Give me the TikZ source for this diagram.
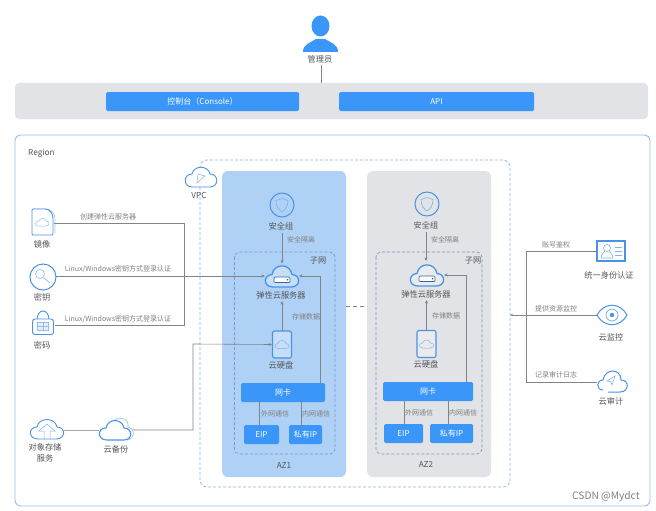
\documentclass[tikz,border=0pt]{standalone}
\usepackage{fontspec}
\usetikzlibrary{arrows.meta}
\setmainfont{Noto Sans CJK SC}
\definecolor{btn}{HTML}{3A96F8}
\definecolor{ico}{HTML}{4A93E6}
\definecolor{icolight}{HTML}{A9CBF2}
\definecolor{regionc}{HTML}{93C3F2}
\definecolor{vpcc}{HTML}{8FB4E6}
\definecolor{barc}{HTML}{E1E3E6}
\definecolor{azone}{HTML}{AFD1F6}
\definecolor{aztwo}{HTML}{E1E3E6}
\definecolor{linec}{HTML}{7F858C}
\definecolor{txt}{HTML}{555555}
\definecolor{subt}{HTML}{808080}
\tikzset{
  x=1pt,y=-1pt,
  lbl/.style={font=\fontsize{8.2}{9.5}\selectfont,text=txt,inner sep=0pt,align=center},
  small/.style={font=\fontsize{7}{8}\selectfont,text=subt,inner sep=0pt},
  btnbox/.style={fill=btn,rounded corners=1.5pt,text=white,inner sep=0pt,font=\fontsize{8}{9}\selectfont},
  spot/.style={inner sep=0pt,outer sep=0pt},
  conn/.style={draw=linec,line width=0.6pt},
  arr/.style={conn,-{Stealth[length=3.5pt,width=3pt]}},
  thick gray/.style={draw=gray!70,line width=1pt},
  subnet/.style={draw=vpcc!85!black,dashed,line width=0.7pt,dash pattern=on 3pt off 2pt,rounded corners=5pt},
  icoline/.style={draw=ico,line width=0.9pt},
  shieldicon/.pic={
    \draw[icoline,draw=ico,line width=1pt] (0,0) circle (12);
    \draw[draw=ico!70,line width=0.6pt] (0,-6.5) -- (6,-4.5) .. controls (6,2) and (3,5) .. (0,7) .. controls (-3,5) and (-6,2) .. (-6,-4.5) -- cycle;
  },
  srvicon/.pic={
    \draw[icoline,line width=1.3pt,fill=white,fill opacity=0.3] (-9,11) .. controls (-19,11) and (-19,-1) .. (-10,-1.5)
      .. controls (-8,-13) and (8,-13) .. (10,-1.5) .. controls (19,-1) and (19,11) .. (9,11) -- cycle;
    \draw[draw=ico!70!black,line width=0.7pt,fill=white,rounded corners=1pt] (-8,1) rectangle (8,6.5);
    \fill[ico!70!black] (5.5,3.7) circle (0.9);
  },
  diskicon/.pic={
    \draw[icoline,line width=1.1pt,fill=white,fill opacity=0.3,rounded corners=2pt] (-9.5,-13.5) rectangle (9.5,13.5);
    \draw[draw=ico!70,line width=0.5pt] (-4,4) .. controls (-8,4) and (-8,-1) .. (-4,-1) .. controls (-3,-5) and (3,-5) .. (4,-1) .. controls (8,-1) and (8,4) .. (4,4) -- cycle;
  },
  imgicon/.pic={
    \draw[draw=icolight,line width=0.7pt] (-9,-13) -- (3,-13) .. controls (8,-13) and (12,-9) .. (12,-3) -- (12,11);
    \draw[icoline,fill=white,rounded corners=1pt] (-11,-13) -- (1,-13) .. controls (7,-13) and (10,-8) .. (10,-3) -- (10,13) -- (-11,13) -- cycle;
    \draw[draw=ico!60,line width=0.5pt] (-5,4) .. controls (-9,4) and (-8,-1) .. (-4,-1) .. controls (-3,-5) and (3,-4) .. (3,-1) .. controls (7,-1) and (7,4) .. (3,4) -- cycle;
  },
  keyicon/.pic={
    \draw[icoline,line width=1pt] (0,0) circle (13);
    \draw[draw=ico!60,line width=0.6pt] (-3,-3) circle (4.5);
    \draw[draw=ico!60,line width=0.8pt] (0.5,0.5) -- (7,6);
  },
  lockicon/.pic={
    \draw[icoline] (-6,-3) .. controls (-6,-15) and (6,-15) .. (6,-3);
    \draw[icoline,fill=white,rounded corners=2.5pt] (-10.5,-4) rectangle (10.5,11.5);
    \draw[draw=ico!60,line width=0.5pt,fill=icolight!30] (-5.5,-0.5) rectangle (5.5,7.5);
    \draw[draw=ico!60,line width=0.4pt] (0,-0.5) -- (0,7.5) (-5.5,3.5) -- (5.5,3.5);
  },
  idicon/.pic={
    \draw[icoline,line width=1.1pt] (-14,-10) rectangle (14,10);
    \draw[draw=ico!70,line width=0.6pt] (-4,-3) circle (3.5);
    \draw[draw=ico!70,line width=0.6pt] (-10,7) .. controls (-10,3) and (-7,2) .. (-6,0) (2,7) .. controls (2,3) and (-1,2) .. (-2,0) (-10,7) -- (2,7);
    \draw[draw=ico!70,line width=0.6pt] (4,-4) -- (11,-4) (4,0) -- (11,0) (4,4) -- (11,4);
  },
  eyeicon/.pic={
    \draw[icoline,line width=1pt] (-15,0) .. controls (-8,-13) and (8,-13) .. (15,0) .. controls (8,13) and (-8,13) .. (-15,0) -- cycle;
    \draw[draw=ico!80,line width=0.7pt] (0,0) circle (6);
    \fill[ico] (0,0) circle (2.2);
  },
  auditicon/.pic={
    \draw[icoline,line width=1pt] (-9,8) .. controls (-16,8) and (-16,-2) .. (-9,-2) .. controls (-7,-14) and (9,-14) .. (9,-2) .. controls (18,-2) and (17,10) .. (8,10) -- (-4,10);
    \draw[draw=ico!70,line width=0.6pt] (-5,-1) -- (3,-6) -- (0,3) -- (-1,0) -- cycle;
  },
  vpcicon/.pic={
    \draw[icoline,fill=white] (-9,9) .. controls (-18,9) and (-18,-4) .. (-9,-4) .. controls (-7,-13) and (7,-13) .. (9,-4) .. controls (18,-4) and (18,9) .. (9,9) -- cycle;
    \draw[draw=ico!70,line width=0.5pt] (-3,-4) -- (4,-2) -- (-4,5) -- cycle;
  },
  backupicon/.pic={
    \draw[draw=icolight,line width=0.8pt] (-5,-7) .. controls (1,-15) and (14,-12) .. (12,-3) .. controls (20,-1) and (19,9) .. (11,10);
    \draw[icoline,line width=1.1pt,fill=white] (-9,10) .. controls (-19,10) and (-19,-2) .. (-10,-2) .. controls (-8,-12) and (6,-12) .. (8,-2) .. controls (17,-2) and (17,10) .. (8,10) -- cycle;
  },
  uploadicon/.pic={
    \draw[icoline,fill=white] (-9,9) .. controls (-19,9) and (-19,-3) .. (-10,-3) .. controls (-8,-13) and (8,-13) .. (10,-3) .. controls (19,-3) and (19,9) .. (9,9) -- cycle;
    \draw[draw=ico!70,line width=0.5pt] (-3,9) -- (-3,1) -- (-8,1) -- (0,-6) -- (8,1) -- (3,1) -- (3,9);
  },
}
\begin{document}
\begin{tikzpicture}
\useasboundingbox (0,0) rectangle (656,511);
\fill[white] (0,0) rectangle (656,511);

% --- top
\node[spot,minimum width=35pt,minimum height=36pt] (admin) at (320.5,34) {};
\fill[btn] (320.5,26) ellipse[x radius=9,y radius=10.5];
\fill[btn] (303,52) .. controls (303,44) and (310,43) .. (316,39) -- (325,39) .. controls (331,43) and (338,44) .. (338,52) -- cycle;
\node[lbl] (adminl) at (320,59) {管理员};
\fill[barc,rounded corners=4pt] (15,83) rectangle (648,119);
\coordinate (barTop) at (321,83);
\draw[conn] (321,65) coordinate (adminb) -- (barTop);
\node[btnbox,minimum width=193pt,minimum height=19pt] (console) at (202.5,101.5) {控制台（Console）};
\node[btnbox,minimum width=195pt,minimum height=19pt] (api) at (436.5,101.5) {API};

% --- region, VPC, AZs
\draw[draw=regionc,line width=0.9pt,rounded corners=6pt] (15,135) rectangle (650,506);
\node[lbl,anchor=west] (region) at (28,153) {Region};
\draw[subnet,draw=vpcc,rounded corners=7pt] (200,160) rectangle (510,487);
\fill[azone,rounded corners=6pt] (222,171) rectangle (346,477);
\fill[aztwo,rounded corners=6pt] (367,171) rectangle (491,477);
\draw[subnet] (234.5,252) rectangle (335,454);
\draw[subnet] (376,252) rectangle (482,454);
\node[spot,minimum width=30pt,minimum height=22pt] (vpc) at (201,178) {};
\pic at (vpc) {vpcicon};
\node[lbl] (vpcl) at (199,195) {VPC};
\node[lbl] (azonel) at (284,465) {AZ1};
\node[lbl] (aztwol) at (426,464) {AZ2};
\node[lbl] (subone) at (318,261) {子网};
\node[lbl] (subtwo) at (473,261) {子网};
\coordinate (azoneE) at (346,306);
\coordinate (aztwoW) at (367,306);
\draw[conn,dashed,dash pattern=on 4pt off 3pt] (azoneE) -- (aztwoW);

% --- AZ1
\node[spot,minimum size=24pt] (sgA) at (282,205) {};
\pic at (sgA) {shieldicon};
\node[lbl] (sgAl) at (281,226) {安全组};
\node[spot,minimum width=34pt,minimum height=25pt] (ecsA) at (282,276) {};
\pic at (ecsA) {srvicon};
\node[lbl] (ecsAl) at (281,295) {弹性云服务器};
\node[spot,minimum width=20pt,minimum height=27pt] (diskA) at (282,344.5) {};
\pic at (diskA) {diskicon};
\node[lbl] (diskAl) at (281,365) {云硬盘};
\node[btnbox,minimum width=84pt,minimum height=19pt] (nicA) at (283,392.5) {网卡};
\node[btnbox,minimum width=35pt,minimum height=19pt] (eipA) at (261.5,434.5) {EIP};
\node[btnbox,minimum width=33pt,minimum height=19pt] (pipA) at (305.5,434.5) {私有IP};
\draw[arr] (282,233) -- (ecsA.north);
\draw[arr] (diskA.north) -- (282,301);
\draw[conn] (259.5,402) -- (259.5,425);
\draw[conn] (301,402) -- (301,425);
\draw[arr] (320.5,383) |- (ecsA.east);
\node[small] at (301,240) {安全隔离};
\node[small] at (306,317) {存储数据};
\node[small] at (275,414) {外网通信};
\node[small] at (316,414) {内网通信};

% --- AZ2
\node[spot,minimum size=24pt] (sgB) at (427,204) {};
\pic at (sgB) {shieldicon};
\node[lbl] (sgBl) at (426,225) {安全组};
\node[spot,minimum width=34pt,minimum height=25pt] (ecsB) at (427,275) {};
\pic at (ecsB) {srvicon};
\node[lbl] (ecsBl) at (426,294) {弹性云服务器};
\node[spot,minimum width=20pt,minimum height=27pt] (diskB) at (426.5,344) {};
\pic at (diskB) {diskicon};
\node[lbl] (diskBl) at (426,364) {云硬盘};
\node[btnbox,minimum width=90pt,minimum height=19pt] (nicB) at (428,391.5) {网卡};
\node[btnbox,minimum width=39pt,minimum height=19pt] (eipB) at (403.5,433.5) {EIP};
\node[btnbox,minimum width=43pt,minimum height=19pt] (pipB) at (451.5,433.5) {私有IP};
\draw[arr] (426,232) -- (426,261);
\draw[arr] (diskB.north) -- (426.5,300);
\draw[conn] (404,401) -- (404,424);
\draw[conn] (448,401) -- (448,424);
\draw[arr] (466,382) |- (ecsB.east);
\node[small] at (445,240) {安全隔离};
\node[small] at (446,316) {存储数据};
\node[small] at (419,413) {外网通信};
\node[small] at (463,413) {内网通信};

% --- left
\node[spot,minimum width=22pt,minimum height=26pt] (img) at (43,222) {};
\pic at (img) {imgicon};
\node[lbl] at (42,244) {镜像};
\node[spot,minimum size=26pt] (key) at (43,277) {};
\pic at (key) {keyicon};
\node[lbl] at (42,297) {密钥};
\node[spot,minimum width=22pt,minimum height=24pt] (pwd) at (43,323) {};
\pic at (pwd) {lockicon};
\node[lbl] at (42,345) {密码};
\draw[conn] (54,223) -- (184,223) -- (184,325) -- (55,325);
\draw[arr] (56,276) -- (265,276);
\node[small] at (108,217) {创建弹性云服务器};
\node[small] at (118,269) {Linux/Windows密钥方式登录认证};
\node[small] at (118,319) {Linux/Windows密钥方式登录认证};

\node[spot,minimum width=30pt,minimum height=22pt] (obs) at (47,430) {};
\pic at (obs) {uploadicon};
\node[lbl] at (45,453) {对象存储\\[1.5pt]服务};
\node[spot,minimum width=34pt,minimum height=24pt] (cbr) at (116,430) {};
\draw[thick gray] (obs.east) -- (cbr.west);
\pic at (cbr) {backupicon};
\node[lbl] at (116,449) {云备份};
\draw[arr] (cbr.east) -- (193,430) -- (193,344) -- (diskA.west);

% --- right
\node[spot,minimum width=28pt,minimum height=20pt] (iam) at (611,251) {};
\pic at (iam) {idicon};
\node[lbl] at (609,275) {统一身份认证};
\node[spot,minimum width=30pt,minimum height=24pt] (ces) at (612,315) {};
\pic at (ces) {eyeicon};
\node[lbl] at (611,337) {云监控};
\node[spot,minimum width=30pt,minimum height=24pt] (cts) at (612,382) {};
\pic at (cts) {auditicon};
\node[lbl] at (611,401) {云审计};
\coordinate (vpcE) at (510,315);
\draw[conn] (iam.west) -- (526,251) -- (526,382) -- (cts.west);
\draw[conn,-{Stealth[length=3pt,width=2.5pt]}] (ces.west) -- (vpcE);
\node[small] at (556,245) {账号鉴权};
\node[small] at (556,309) {提供资源监控};
\node[small] at (556,375) {记录审计日志};

\node[font=\fontsize{10.2}{12}\selectfont,text=black!50,inner sep=0pt,anchor=west] (mark) at (572,497) {CSDN @Mydct};
\end{tikzpicture}
\end{document}
